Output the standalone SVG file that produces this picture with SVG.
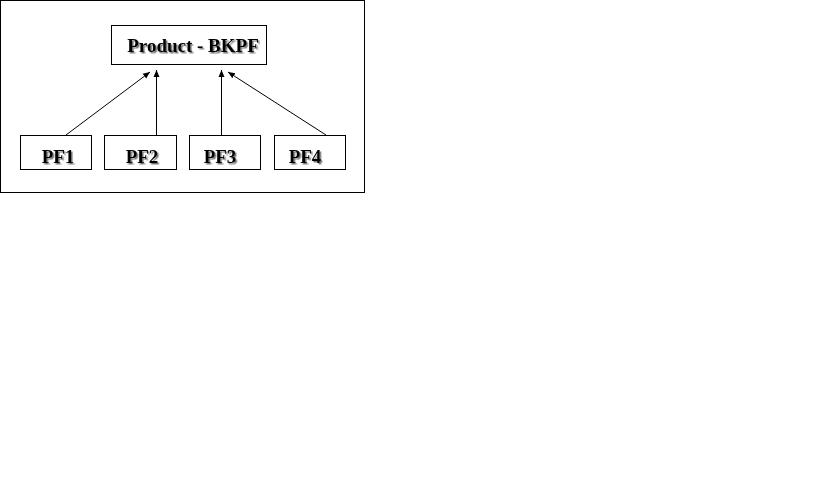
<svg xmlns="http://www.w3.org/2000/svg" width="830" height="493" viewBox="0 0 830 493">
<style>
.box{fill:#fff;stroke:#000;stroke-width:1}
.lbl{font-family:"Liberation Serif","Times New Roman",serif;font-weight:bold;font-size:19px;fill:#000;text-anchor:middle;filter:url(#sh)}
.ln{stroke:#000;stroke-width:1;fill:none;marker-end:url(#ah)}
</style>
<defs>
<filter id="sh" x="-10%" y="-20%" width="130%" height="150%">
<feDropShadow dx="1.5" dy="1.5" stdDeviation="0.6" flood-color="#666" flood-opacity="0.9"/>
</filter>
<marker id="ah" markerWidth="8" markerHeight="8" refX="7" refY="4" orient="auto" markerUnits="userSpaceOnUse">
<path d="M0,1 L7,4 L0,7 Z" fill="#000"/>
</marker>
</defs>
<rect width="830" height="493" fill="#fff"/>
<rect x="0.5" y="0.5" width="364" height="192" class="box"/>
<g id="product">
<rect x="111.5" y="25.5" width="155" height="39" class="box"/>
<text x="193" y="52" class="lbl">Product - BKPF</text>
</g>
<g id="pf1">
<rect x="20.5" y="135.5" width="71" height="34" class="box"/>
<text x="58" y="163" class="lbl">PF1</text>
</g>
<g id="pf2">
<rect x="104.5" y="135.5" width="72" height="34" class="box"/>
<text x="142" y="163" class="lbl">PF2</text>
</g>
<g id="pf3">
<rect x="189.5" y="135.5" width="71" height="34" class="box"/>
<text x="220" y="163" class="lbl">PF3</text>
</g>
<g id="pf4">
<rect x="274.5" y="135.5" width="71" height="34" class="box"/>
<text x="305" y="163" class="lbl">PF4</text>
</g>
<g id="connectors">
<line x1="66" y1="135" x2="150" y2="72" class="ln"/>
<line x1="156.5" y1="135" x2="156.5" y2="70" class="ln"/>
<line x1="221.5" y1="135" x2="221.5" y2="70" class="ln"/>
<line x1="326" y1="135" x2="228" y2="72" class="ln"/>
</g>
</svg>
